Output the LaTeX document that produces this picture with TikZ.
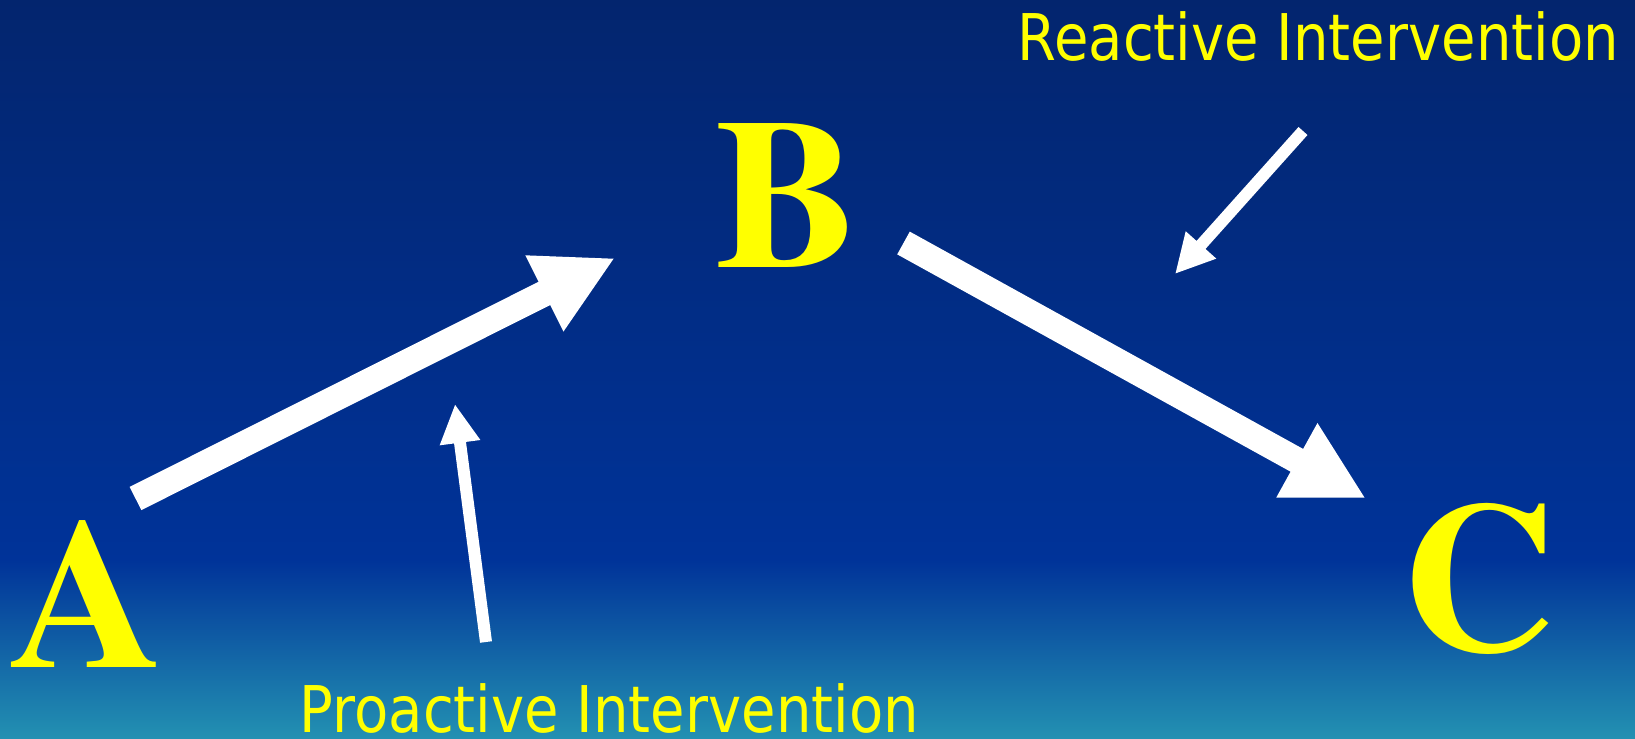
\documentclass[tikz,border=0pt]{standalone}
\usepackage{fontspec}
\usepackage{tikz}
\usetikzlibrary{arrows.meta}
\newfontfamily\letterfont{texgyretermes-bold.otf}
\newfontfamily\labelfont[FakeStretch=0.87]{DejaVu Sans}
\definecolor{skytop}{RGB}{3,37,110}
\definecolor{skymid}{RGB}{0,51,153}
\definecolor{skylow}{RGB}{35,145,178}
\definecolor{labelyellow}{RGB}{255,255,0}
\tikzset{
  letter/.style={text=labelyellow, inner sep=0pt, anchor=base,
    font=\letterfont\fontsize{106.5pt}{110pt}\selectfont},
  caption/.style={text=labelyellow, inner sep=0pt, anchor=base west,
    font=\labelfont\fontsize{32.2pt}{36pt}\selectfont},
  bigarrow/.style={draw=white, line width=13pt, -{Triangle[length=39.5pt,width=39.5pt]}},
  smallarrow/.style={draw=white, line width=6pt, -{Triangle[length=19.5pt,width=19pt]}}
}

\begin{document}
\begin{tikzpicture}[x=0.5pt,y=-0.5pt]
        % background
        \useasboundingbox (0,0) rectangle (1635,739);
        \shade[top color=skytop,bottom color=skymid] (0,0) rectangle (1635,561);
        \shade[top color=skymid,bottom color=skylow] (0,560) rectangle (1635,739);
        % letters
        \node[letter] (A) at (86.5,667) {A};
        \node[letter] (B) at (787,267) {B};
        \node[letter] (C) at (1479,650) {C};
        % labels
        \node[caption] (reactive) at (1017.5,61) {Reactive Intervention};
        \node[caption] (proactive) at (299.5,732) {Proactive Intervention};
        % arrow ends
        \coordinate (ab0) at (135.5,498.5);
        \coordinate (ab1) at (615,258);
        \coordinate (bc0) at (903.5,243);
        \coordinate (bc1) at (1366,498.5);
        \coordinate (re0) at (1303,131);
        \coordinate (re1) at (1175,274);
        \coordinate (pr0) at (486,642);
        \coordinate (pr1) at (455,404);
        % arrows
        \draw[bigarrow] (ab0) -- (ab1);
        \draw[bigarrow] (bc0) -- (bc1);
        \draw[smallarrow] (re0) -- (re1);
        \draw[smallarrow] (pr0) -- (pr1);
\end{tikzpicture}
\end{document}
